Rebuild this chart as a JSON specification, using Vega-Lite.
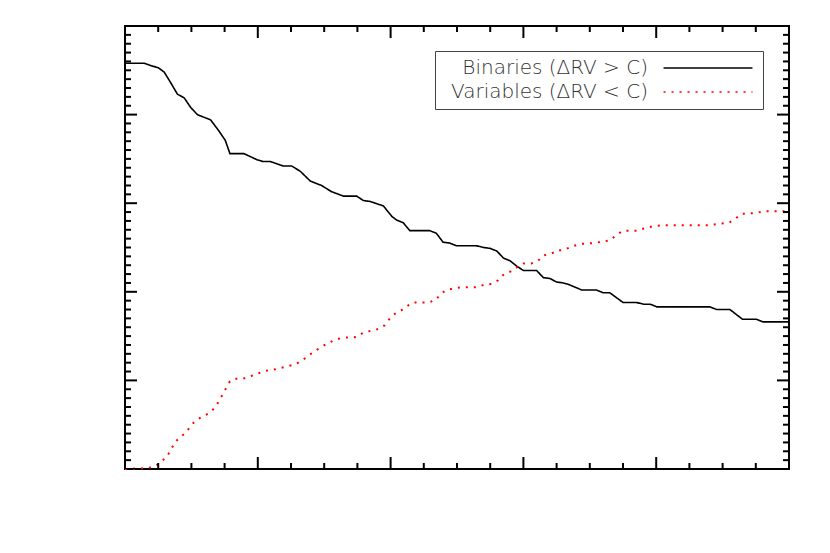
{
  "$schema": "https://vega.github.io/schema/vega-lite/v6.json",
  "width": 664,
  "height": 443,
  "autosize": "none",
  "padding": {"left": 125, "top": 26, "right": 41, "bottom": 84},
  "config": {
    "font": "DejaVu Sans",
    "view": {"stroke": "black", "strokeWidth": 2},
    "axis": {"grid": false}
  },
  "datasets": {
    "xmaj": [{"t": 0}, {"t": 20}, {"t": 40}, {"t": 60}, {"t": 80}, {"t": 100}],
    "xmin": [{"t": 5}, {"t": 10}, {"t": 15}, {"t": 25}, {"t": 30}, {"t": 35}, {"t": 45}, {"t": 50}, {"t": 55}, {"t": 65}, {"t": 70}, {"t": 75}, {"t": 85}, {"t": 90}, {"t": 95}],
    "ymaj": [{"t": 0}, {"t": 0.1}, {"t": 0.2}, {"t": 0.3}, {"t": 0.4}, {"t": 0.5}],
    "ymin": [{"t": 0.01}, {"t": 0.02}, {"t": 0.03}, {"t": 0.04}, {"t": 0.05}, {"t": 0.06}, {"t": 0.07}, {"t": 0.08}, {"t": 0.09}, {"t": 0.11}, {"t": 0.12}, {"t": 0.13}, {"t": 0.14}, {"t": 0.15}, {"t": 0.16}, {"t": 0.17}, {"t": 0.18}, {"t": 0.19}, {"t": 0.21}, {"t": 0.22}, {"t": 0.23}, {"t": 0.24}, {"t": 0.25}, {"t": 0.26}, {"t": 0.27}, {"t": 0.28}, {"t": 0.29}, {"t": 0.31}, {"t": 0.32}, {"t": 0.33}, {"t": 0.34}, {"t": 0.35}, {"t": 0.36}, {"t": 0.37}, {"t": 0.38}, {"t": 0.39}, {"t": 0.41}, {"t": 0.42}, {"t": 0.43}, {"t": 0.44}, {"t": 0.45}, {"t": 0.46}, {"t": 0.47}, {"t": 0.48}, {"t": 0.49}],
    "curves": [
      {"C": 0, "f": 0.458, "s": "Binaries (ΔRV > C)"},
      {"C": 2.9, "f": 0.458, "s": "Binaries (ΔRV > C)"},
      {"C": 4.0, "f": 0.455, "s": "Binaries (ΔRV > C)"},
      {"C": 5.0, "f": 0.453, "s": "Binaries (ΔRV > C)"},
      {"C": 5.9, "f": 0.448, "s": "Binaries (ΔRV > C)"},
      {"C": 6.8, "f": 0.437, "s": "Binaries (ΔRV > C)"},
      {"C": 7.9, "f": 0.423, "s": "Binaries (ΔRV > C)"},
      {"C": 8.9, "f": 0.419, "s": "Binaries (ΔRV > C)"},
      {"C": 9.9, "f": 0.408, "s": "Binaries (ΔRV > C)"},
      {"C": 10.9, "f": 0.400, "s": "Binaries (ΔRV > C)"},
      {"C": 12.9, "f": 0.394, "s": "Binaries (ΔRV > C)"},
      {"C": 14.1, "f": 0.382, "s": "Binaries (ΔRV > C)"},
      {"C": 15.1, "f": 0.371, "s": "Binaries (ΔRV > C)"},
      {"C": 15.8, "f": 0.356, "s": "Binaries (ΔRV > C)"},
      {"C": 17.9, "f": 0.356, "s": "Binaries (ΔRV > C)"},
      {"C": 19.9, "f": 0.349, "s": "Binaries (ΔRV > C)"},
      {"C": 20.8, "f": 0.347, "s": "Binaries (ΔRV > C)"},
      {"C": 21.9, "f": 0.347, "s": "Binaries (ΔRV > C)"},
      {"C": 23.8, "f": 0.342, "s": "Binaries (ΔRV > C)"},
      {"C": 25.1, "f": 0.342, "s": "Binaries (ΔRV > C)"},
      {"C": 26.4, "f": 0.336, "s": "Binaries (ΔRV > C)"},
      {"C": 27.9, "f": 0.325, "s": "Binaries (ΔRV > C)"},
      {"C": 29.6, "f": 0.320, "s": "Binaries (ΔRV > C)"},
      {"C": 31.1, "f": 0.313, "s": "Binaries (ΔRV > C)"},
      {"C": 32.9, "f": 0.308, "s": "Binaries (ΔRV > C)"},
      {"C": 34.9, "f": 0.308, "s": "Binaries (ΔRV > C)"},
      {"C": 35.9, "f": 0.303, "s": "Binaries (ΔRV > C)"},
      {"C": 36.9, "f": 0.302, "s": "Binaries (ΔRV > C)"},
      {"C": 38.9, "f": 0.297, "s": "Binaries (ΔRV > C)"},
      {"C": 40.2, "f": 0.285, "s": "Binaries (ΔRV > C)"},
      {"C": 40.9, "f": 0.281, "s": "Binaries (ΔRV > C)"},
      {"C": 41.9, "f": 0.278, "s": "Binaries (ΔRV > C)"},
      {"C": 42.9, "f": 0.269, "s": "Binaries (ΔRV > C)"},
      {"C": 45.9, "f": 0.269, "s": "Binaries (ΔRV > C)"},
      {"C": 46.9, "f": 0.266, "s": "Binaries (ΔRV > C)"},
      {"C": 47.9, "f": 0.256, "s": "Binaries (ΔRV > C)"},
      {"C": 48.9, "f": 0.255, "s": "Binaries (ΔRV > C)"},
      {"C": 49.9, "f": 0.252, "s": "Binaries (ΔRV > C)"},
      {"C": 52.9, "f": 0.252, "s": "Binaries (ΔRV > C)"},
      {"C": 54.0, "f": 0.250, "s": "Binaries (ΔRV > C)"},
      {"C": 55.0, "f": 0.249, "s": "Binaries (ΔRV > C)"},
      {"C": 56.0, "f": 0.246, "s": "Binaries (ΔRV > C)"},
      {"C": 57.0, "f": 0.238, "s": "Binaries (ΔRV > C)"},
      {"C": 58.0, "f": 0.235, "s": "Binaries (ΔRV > C)"},
      {"C": 59.0, "f": 0.229, "s": "Binaries (ΔRV > C)"},
      {"C": 60.0, "f": 0.224, "s": "Binaries (ΔRV > C)"},
      {"C": 62.0, "f": 0.224, "s": "Binaries (ΔRV > C)"},
      {"C": 63.0, "f": 0.216, "s": "Binaries (ΔRV > C)"},
      {"C": 64.0, "f": 0.215, "s": "Binaries (ΔRV > C)"},
      {"C": 65.0, "f": 0.211, "s": "Binaries (ΔRV > C)"},
      {"C": 66.0, "f": 0.210, "s": "Binaries (ΔRV > C)"},
      {"C": 66.9, "f": 0.208, "s": "Binaries (ΔRV > C)"},
      {"C": 68.8, "f": 0.202, "s": "Binaries (ΔRV > C)"},
      {"C": 71.0, "f": 0.202, "s": "Binaries (ΔRV > C)"},
      {"C": 72.0, "f": 0.199, "s": "Binaries (ΔRV > C)"},
      {"C": 73.0, "f": 0.199, "s": "Binaries (ΔRV > C)"},
      {"C": 75.0, "f": 0.188, "s": "Binaries (ΔRV > C)"},
      {"C": 77.0, "f": 0.188, "s": "Binaries (ΔRV > C)"},
      {"C": 78.1, "f": 0.186, "s": "Binaries (ΔRV > C)"},
      {"C": 79.1, "f": 0.186, "s": "Binaries (ΔRV > C)"},
      {"C": 80.1, "f": 0.183, "s": "Binaries (ΔRV > C)"},
      {"C": 88.1, "f": 0.183, "s": "Binaries (ΔRV > C)"},
      {"C": 89.1, "f": 0.180, "s": "Binaries (ΔRV > C)"},
      {"C": 91.1, "f": 0.180, "s": "Binaries (ΔRV > C)"},
      {"C": 93.0, "f": 0.169, "s": "Binaries (ΔRV > C)"},
      {"C": 95.1, "f": 0.169, "s": "Binaries (ΔRV > C)"},
      {"C": 96.1, "f": 0.166, "s": "Binaries (ΔRV > C)"},
      {"C": 100, "f": 0.166, "s": "Binaries (ΔRV > C)"},
      {"C": 0, "f": 0.0, "s": "Variables (ΔRV < C)"},
      {"C": 3.5, "f": 0.001, "s": "Variables (ΔRV < C)"},
      {"C": 4.7, "f": 0.004, "s": "Variables (ΔRV < C)"},
      {"C": 5.6, "f": 0.009, "s": "Variables (ΔRV < C)"},
      {"C": 6.4, "f": 0.015, "s": "Variables (ΔRV < C)"},
      {"C": 7.0, "f": 0.023, "s": "Variables (ΔRV < C)"},
      {"C": 7.6, "f": 0.031, "s": "Variables (ΔRV < C)"},
      {"C": 8.5, "f": 0.037, "s": "Variables (ΔRV < C)"},
      {"C": 9.2, "f": 0.041, "s": "Variables (ΔRV < C)"},
      {"C": 9.9, "f": 0.049, "s": "Variables (ΔRV < C)"},
      {"C": 10.7, "f": 0.055, "s": "Variables (ΔRV < C)"},
      {"C": 11.6, "f": 0.059, "s": "Variables (ΔRV < C)"},
      {"C": 12.7, "f": 0.063, "s": "Variables (ΔRV < C)"},
      {"C": 13.5, "f": 0.069, "s": "Variables (ΔRV < C)"},
      {"C": 14.1, "f": 0.076, "s": "Variables (ΔRV < C)"},
      {"C": 14.7, "f": 0.084, "s": "Variables (ΔRV < C)"},
      {"C": 15.2, "f": 0.091, "s": "Variables (ΔRV < C)"},
      {"C": 15.8, "f": 0.099, "s": "Variables (ΔRV < C)"},
      {"C": 16.6, "f": 0.102, "s": "Variables (ΔRV < C)"},
      {"C": 17.8, "f": 0.102, "s": "Variables (ΔRV < C)"},
      {"C": 19.0, "f": 0.105, "s": "Variables (ΔRV < C)"},
      {"C": 20.1, "f": 0.108, "s": "Variables (ΔRV < C)"},
      {"C": 21.2, "f": 0.111, "s": "Variables (ΔRV < C)"},
      {"C": 22.3, "f": 0.112, "s": "Variables (ΔRV < C)"},
      {"C": 23.4, "f": 0.114, "s": "Variables (ΔRV < C)"},
      {"C": 24.5, "f": 0.116, "s": "Variables (ΔRV < C)"},
      {"C": 25.6, "f": 0.118, "s": "Variables (ΔRV < C)"},
      {"C": 26.6, "f": 0.122, "s": "Variables (ΔRV < C)"},
      {"C": 27.8, "f": 0.129, "s": "Variables (ΔRV < C)"},
      {"C": 29.0, "f": 0.135, "s": "Variables (ΔRV < C)"},
      {"C": 30.3, "f": 0.141, "s": "Variables (ΔRV < C)"},
      {"C": 31.4, "f": 0.145, "s": "Variables (ΔRV < C)"},
      {"C": 32.6, "f": 0.148, "s": "Variables (ΔRV < C)"},
      {"C": 34.9, "f": 0.149, "s": "Variables (ΔRV < C)"},
      {"C": 35.9, "f": 0.154, "s": "Variables (ΔRV < C)"},
      {"C": 38.2, "f": 0.158, "s": "Variables (ΔRV < C)"},
      {"C": 39.1, "f": 0.162, "s": "Variables (ΔRV < C)"},
      {"C": 39.8, "f": 0.169, "s": "Variables (ΔRV < C)"},
      {"C": 40.6, "f": 0.175, "s": "Variables (ΔRV < C)"},
      {"C": 41.6, "f": 0.179, "s": "Variables (ΔRV < C)"},
      {"C": 42.5, "f": 0.184, "s": "Variables (ΔRV < C)"},
      {"C": 43.4, "f": 0.188, "s": "Variables (ΔRV < C)"},
      {"C": 45.8, "f": 0.188, "s": "Variables (ΔRV < C)"},
      {"C": 46.8, "f": 0.191, "s": "Variables (ΔRV < C)"},
      {"C": 47.6, "f": 0.198, "s": "Variables (ΔRV < C)"},
      {"C": 48.4, "f": 0.202, "s": "Variables (ΔRV < C)"},
      {"C": 49.5, "f": 0.204, "s": "Variables (ΔRV < C)"},
      {"C": 50.7, "f": 0.205, "s": "Variables (ΔRV < C)"},
      {"C": 52.9, "f": 0.205, "s": "Variables (ΔRV < C)"},
      {"C": 54.1, "f": 0.208, "s": "Variables (ΔRV < C)"},
      {"C": 55.3, "f": 0.209, "s": "Variables (ΔRV < C)"},
      {"C": 56.2, "f": 0.213, "s": "Variables (ΔRV < C)"},
      {"C": 57.1, "f": 0.220, "s": "Variables (ΔRV < C)"},
      {"C": 58.1, "f": 0.223, "s": "Variables (ΔRV < C)"},
      {"C": 59.1, "f": 0.228, "s": "Variables (ΔRV < C)"},
      {"C": 60.0, "f": 0.232, "s": "Variables (ΔRV < C)"},
      {"C": 61.2, "f": 0.232, "s": "Variables (ΔRV < C)"},
      {"C": 62.2, "f": 0.235, "s": "Variables (ΔRV < C)"},
      {"C": 63.0, "f": 0.241, "s": "Variables (ΔRV < C)"},
      {"C": 64.2, "f": 0.243, "s": "Variables (ΔRV < C)"},
      {"C": 65.2, "f": 0.247, "s": "Variables (ΔRV < C)"},
      {"C": 66.0, "f": 0.247, "s": "Variables (ΔRV < C)"},
      {"C": 67.3, "f": 0.251, "s": "Variables (ΔRV < C)"},
      {"C": 68.5, "f": 0.254, "s": "Variables (ΔRV < C)"},
      {"C": 70.8, "f": 0.255, "s": "Variables (ΔRV < C)"},
      {"C": 71.9, "f": 0.257, "s": "Variables (ΔRV < C)"},
      {"C": 73.0, "f": 0.258, "s": "Variables (ΔRV < C)"},
      {"C": 74.0, "f": 0.264, "s": "Variables (ΔRV < C)"},
      {"C": 75.0, "f": 0.269, "s": "Variables (ΔRV < C)"},
      {"C": 77.2, "f": 0.269, "s": "Variables (ΔRV < C)"},
      {"C": 78.3, "f": 0.272, "s": "Variables (ΔRV < C)"},
      {"C": 79.5, "f": 0.274, "s": "Variables (ΔRV < C)"},
      {"C": 80.6, "f": 0.275, "s": "Variables (ΔRV < C)"},
      {"C": 87.6, "f": 0.275, "s": "Variables (ΔRV < C)"},
      {"C": 88.7, "f": 0.276, "s": "Variables (ΔRV < C)"},
      {"C": 91.0, "f": 0.278, "s": "Variables (ΔRV < C)"},
      {"C": 92.0, "f": 0.283, "s": "Variables (ΔRV < C)"},
      {"C": 92.9, "f": 0.288, "s": "Variables (ΔRV < C)"},
      {"C": 95.1, "f": 0.289, "s": "Variables (ΔRV < C)"},
      {"C": 96.2, "f": 0.291, "s": "Variables (ΔRV < C)"},
      {"C": 100, "f": 0.291, "s": "Variables (ΔRV < C)"}
    ]
  },
  "layer": [
    {
      "data": {"name": "curves"},
      "transform": [{"filter": {"field": "s", "equal": "Binaries (ΔRV > C)"}}],
      "mark": {"type": "line", "strokeWidth": 1.6, "interpolate": "linear"},
      "encoding": {
        "x": {
          "field": "C", "type": "quantitative",
          "scale": {"domain": [0, 100], "nice": false, "zero": false},
          "axis": {
            "orient": "bottom", "ticks": false, "domain": false,
            "values": [0, 20, 40, 60, 80, 100], "format": "d",
            "labelFontSize": 28, "labelFontWeight": 200, "labelColor": "#555",
            "labelBaseline": "middle", "labelPadding": 34,
            "labelFlush": false, "labelOverlap": false,
            "title": "C\u00a0\u00a0(km\u00a0\u00a0s⁻¹\u00a0\u00a0)", "titleFontSize": 30, "titleFontWeight": 200,
            "titleColor": "#555", "titlePadding": 5
          }
        },
        "y": {
          "field": "f", "type": "quantitative",
          "scale": {"domain": [0, 0.5], "nice": false, "zero": false},
          "axis": {
            "orient": "left", "ticks": false, "domain": false,
            "values": [0, 0.1, 0.2, 0.3, 0.4, 0.5], "format": ".1f",
            "labelFontSize": 28, "labelFontWeight": 200, "labelColor": "#555",
            "labelPadding": 13, "labelFlush": false, "labelOverlap": false,
            "title": "Fraction", "titleFontSize": 26, "titleFontWeight": 200,
            "titleColor": "#555", "titlePadding": 26
          }
        },
        "color": {
          "field": "s", "type": "nominal",
          "scale": {"domain": ["Binaries (ΔRV > C)", "Variables (ΔRV < C)"], "range": ["black", "red"]},
          "legend": {
            "orient": "none", "legendX": 310, "legendY": 25, "title": null,
            "symbolType": "M-4.94,0H4.94", "symbolSize": 324, "symbolStrokeWidth": 1.5,
            "symbolOffset": 256, "labelAlign": "right", "labelOffset": -70,
            "rowPadding": 4, "padding": 7,
            "strokeColor": "#444", "fillColor": "white",
            "labelFontSize": 20, "labelFontWeight": 200, "labelColor": "#333", "labelLimit": 0
          }
        },
        "strokeDash": {
          "field": "s", "type": "nominal",
          "scale": {"domain": ["Binaries (ΔRV > C)", "Variables (ΔRV < C)"], "range": [[1, 0], [2, 6]]}
        }
      }
    },
    {
      "data": {"name": "curves"},
      "transform": [{"filter": {"field": "s", "equal": "Variables (ΔRV < C)"}}],
      "mark": {"type": "line", "strokeWidth": 2, "interpolate": "linear"},
      "encoding": {
        "x": {"field": "C", "type": "quantitative", "axis": null},
        "y": {"field": "f", "type": "quantitative", "axis": null},
        "color": {"field": "s", "type": "nominal"},
        "strokeDash": {"field": "s", "type": "nominal"}
      }
    },
    {
      "mark": {"type": "rule", "color": "black", "strokeWidth": 1, "strokeDash": [10, 5, 2, 5]},
      "encoding": {
        "x": {"datum": 20, "type": "quantitative", "axis": null}
      }
    },
    {
      "data": {"name": "xmaj"},
      "mark": {"type": "tick", "orient": "vertical", "size": 24, "thickness": 2, "color": "black", "opacity": 1, "clip": true},
      "encoding": {
        "x": {"field": "t", "type": "quantitative", "axis": null},
        "y": {"datum": 0, "type": "quantitative", "axis": null}
      }
    },
    {
      "data": {"name": "xmaj"},
      "mark": {"type": "tick", "orient": "vertical", "size": 24, "thickness": 2, "color": "black", "opacity": 1, "clip": true},
      "encoding": {
        "x": {"field": "t", "type": "quantitative", "axis": null},
        "y": {"datum": 0.5, "type": "quantitative", "axis": null}
      }
    },
    {
      "data": {"name": "xmin"},
      "mark": {"type": "tick", "orient": "vertical", "size": 12, "thickness": 2, "color": "black", "opacity": 1, "clip": true},
      "encoding": {
        "x": {"field": "t", "type": "quantitative", "axis": null},
        "y": {"datum": 0, "type": "quantitative", "axis": null}
      }
    },
    {
      "data": {"name": "xmin"},
      "mark": {"type": "tick", "orient": "vertical", "size": 12, "thickness": 2, "color": "black", "opacity": 1, "clip": true},
      "encoding": {
        "x": {"field": "t", "type": "quantitative", "axis": null},
        "y": {"datum": 0.5, "type": "quantitative", "axis": null}
      }
    },
    {
      "data": {"name": "ymaj"},
      "mark": {"type": "tick", "orient": "horizontal", "size": 24, "thickness": 2, "color": "black", "opacity": 1, "clip": true},
      "encoding": {
        "y": {"field": "t", "type": "quantitative", "axis": null},
        "x": {"datum": 0, "type": "quantitative", "axis": null}
      }
    },
    {
      "data": {"name": "ymaj"},
      "mark": {"type": "tick", "orient": "horizontal", "size": 24, "thickness": 2, "color": "black", "opacity": 1, "clip": true},
      "encoding": {
        "y": {"field": "t", "type": "quantitative", "axis": null},
        "x": {"datum": 100, "type": "quantitative", "axis": null}
      }
    },
    {
      "data": {"name": "ymin"},
      "mark": {"type": "tick", "orient": "horizontal", "size": 12, "thickness": 2, "color": "black", "opacity": 1, "clip": true},
      "encoding": {
        "y": {"field": "t", "type": "quantitative", "axis": null},
        "x": {"datum": 0, "type": "quantitative", "axis": null}
      }
    },
    {
      "data": {"name": "ymin"},
      "mark": {"type": "tick", "orient": "horizontal", "size": 12, "thickness": 2, "color": "black", "opacity": 1, "clip": true},
      "encoding": {
        "y": {"field": "t", "type": "quantitative", "axis": null},
        "x": {"datum": 100, "type": "quantitative", "axis": null}
      }
    }
  ]
}
